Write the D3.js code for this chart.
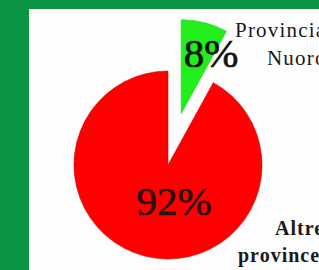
<!DOCTYPE html>
<html>
<head>
<meta charset="utf-8">
<script src="https://cdn.jsdelivr.net/npm/d3@7"></script>
<style>
  html, body { margin: 0; padding: 0; background: #0b9444; }
  svg { display: block; }
</style>
</head>
<body>
<div id="chart"></div>
<script>
// slice data
const categories = ["Provincia di Nuoro", "Altre province"];
const values = [8, 92];
const percentLabels = ["8%", "92%"];
const sliceColors = ["#22ee1c", "#ff0000"];

const width = 319, height = 270;
const cx = 168, cy = 165, radius = 94;
const explode = [53, 0];

const svg = d3.select("#chart")
  .append("svg")
  .attr("width", width)
  .attr("height", height);

// green frame + white panel
svg.append("rect")
  .attr("width", width).attr("height", height)
  .attr("fill", "#0b9444");
svg.append("rect")
  .attr("x", 29).attr("y", 9)
  .attr("width", width - 29).attr("height", height - 9)
  .attr("fill", "#fdfdfd");

const pie = d3.pie().sort(null).value(d => d)(values);
const arc = d3.arc().innerRadius(0).outerRadius(radius);

const g = svg.append("g").attr("transform", `translate(${cx},${cy})`);

g.selectAll("path")
  .data(pie)
  .enter()
  .append("path")
  .attr("d", arc)
  .attr("fill", (d, i) => sliceColors[i])
  .attr("stroke", (d, i) => i === 1 ? "#d00000" : "#1cd41c")
  .attr("stroke-width", 0.6)
  .attr("transform", (d, i) => {
    const a = (d.startAngle + d.endAngle) / 2;
    return `translate(${Math.sin(a) * explode[i]},${-Math.cos(a) * explode[i]})`;
  });

// percent labels
const pctPos = [[211, 67], [174, 215]];
svg.selectAll("text.pct")
  .data(percentLabels)
  .enter()
  .append("text")
  .attr("class", "pct")
  .attr("x", (d, i) => pctPos[i][0])
  .attr("y", (d, i) => pctPos[i][1])
  .attr("text-anchor", "middle")
  .attr("font-family", "Liberation Serif, serif")
  .attr("font-size", 41)
  .attr("fill", (d, i) => i === 0 ? "#111" : "#2a1010")
  .attr("stroke", (d, i) => i === 0 ? "#111" : "#2a1010")
  .attr("stroke-width", 0.7)
  .text(d => d);

// category labels, two lines each
const catLines = [["Provincia di", "Nuoro"], ["Altre", "province"]];
const catPos = [[[235, 37], [267, 65]], [[275, 235], [238, 262]]];
catLines.forEach((lines, i) => {
  lines.forEach((t, j) => {
    svg.append("text")
      .attr("x", catPos[i][j][0])
      .attr("y", catPos[i][j][1])
      .attr("font-family", "Liberation Serif, serif")
      .attr("font-size", i === 0 ? 21 : 20)
      .attr("font-weight", i === 0 ? "normal" : "bold")
      .attr("letter-spacing", i === 0 ? 1.2 : 1)
      .attr("fill", "#1a1a1a")
      .text(t);
  });
});
</script>
</body>
</html>
